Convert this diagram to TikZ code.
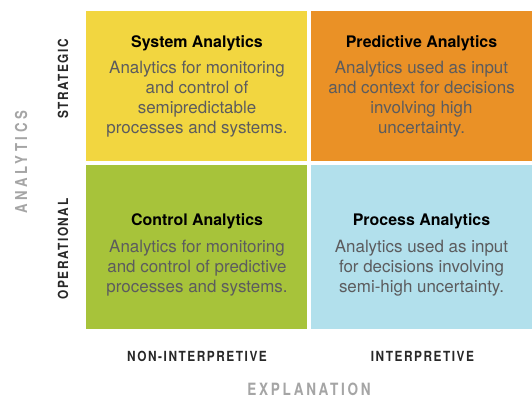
\documentclass[tikz,border=0pt]{standalone}
\usepackage{fontspec}
\setmainfont{TeX Gyre Heros}
% narrow, tracked caps for the axis labels
\newfontfamily\catfont{TeX Gyre Heros}[FakeStretch=0.85,LetterSpace=11]
\newfontfamily\dimfont{TeX Gyre Heros}[FakeStretch=0.8,LetterSpace=16]
\newfontfamily\axisfont{TeX Gyre Heros}[FakeStretch=0.8,LetterSpace=22]

\definecolor{sysyellow}{RGB}{242,214,64}
\definecolor{predorange}{RGB}{234,145,38}
\definecolor{ctrlgreen}{RGB}{167,195,58}
\definecolor{procblue}{RGB}{178,224,236}
\definecolor{bodygray}{RGB}{92,92,94}
\definecolor{catdark}{RGB}{40,40,40}
\definecolor{axisgray}{RGB}{165,165,165}

\begin{document}
\begin{tikzpicture}[x=1bp,y=1bp,
  tile/.style={draw=none, inner sep=0, anchor=south west,
    minimum width=221bp},
  tiletitle/.style={anchor=base, inner sep=0, text=black,
    font=\bfseries\fontsize{16}{19}\selectfont},
  % multi-line bodies are placed by the baseline of their last line
  tilebody/.style={anchor=base, inner sep=0, align=center, text=bodygray,
    font=\fontsize{17}{20}\selectfont},
  category/.style={anchor=base, inner sep=0, text=catdark,
    font=\catfont\bfseries\fontsize{14}{16}\selectfont},
  dimension/.style={anchor=base, inner sep=0, text=axisgray,
    font=\dimfont\bfseries\fontsize{17}{20}\selectfont},
  vdimension/.style={anchor=base, inner sep=0, text=axisgray,
    font=\axisfont\bfseries\fontsize{16.5}{20}\selectfont}]
\useasboundingbox (0,0) rectangle (532,402);
\fill[white] (0,0) rectangle (532,402);

% the four quadrants
\node[tile, fill=sysyellow,  minimum height=150bp] (sys)  at (86,241) {};
\node[tile, fill=predorange, minimum height=150bp] (pred) at (311,241) {};
\node[tile, fill=ctrlgreen,  minimum height=164bp] (ctrl) at (86,73) {};
\node[tile, fill=procblue,   minimum height=164bp] (proc) at (311,73) {};

% quadrant titles and descriptions
\node[tiletitle] (systitle) at (197,355) {System Analytics};
\node[tilebody] (sysbody) at (197,269) {Analytics for monitoring\\and control of\\semipredictable\\processes and systems.};

\node[tiletitle] (predtitle) at (421.5,355) {Predictive Analytics};
\node[tilebody] (predbody) at (421.5,269) {Analytics used as input\\and context for decisions\\involving high\\uncertainty.};

\node[tiletitle] (ctrltitle) at (197,177) {Control Analytics};
\node[tilebody] (ctrlbody) at (197,110) {Analytics for monitoring\\and control of predictive\\processes and systems.};

\node[tiletitle] (proctitle) at (421.5,177) {Process Analytics};
\node[tilebody] (procbody) at (421.5,110) {Analytics used as input\\for decisions involving\\semi-high uncertainty.};

% vertical axis
\node[category, rotate=90] (strategic)   at (68,323) {STRATEGIC};
\node[category, rotate=90] (operational) at (68,153) {OPERATIONAL};
\node[vdimension, rotate=90] (analytics) at (27,239.5) {ANALYTICS};

% horizontal axis
\node[category] (noninterp) at (197,40.3) {NON-INTERPRETIVE};
\node[category] (interp)    at (422.5,40.3) {INTERPRETIVE};
\node[dimension] (explanation) at (309,7) {EXPLANATION};
\end{tikzpicture}
\end{document}
